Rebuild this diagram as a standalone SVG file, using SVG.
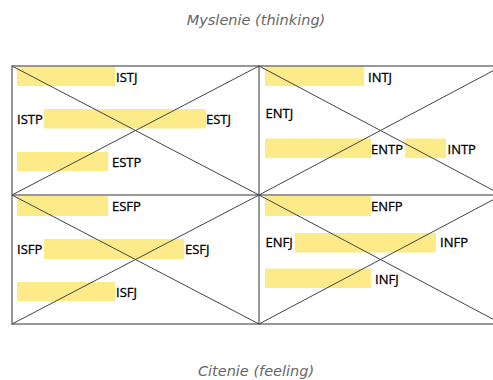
<svg xmlns="http://www.w3.org/2000/svg" width="493" height="380" viewBox="0 0 493 380">
<style>
.bar{fill:#fdeb8a}
.lbl{font-family:"Open Sans","Noto Sans",sans-serif;font-size:13px;fill:#000;stroke:#000;stroke-width:0.3}
.title{font-family:"DejaVu Sans",sans-serif;font-style:italic;font-size:14.5px;fill:#666;text-anchor:middle}
.frame{fill:none;stroke:#777;stroke-width:1.5}
.diag{stroke:#444;stroke-width:1;fill:none}
</style>
<rect width="493" height="380" fill="#fff"/>
<text class="title" x="256" y="25">Myslenie (thinking)</text>
<text class="title" x="256" y="376">Citenie (feeling)</text>
<g id="bars">
<rect class="bar" x="17" y="66" width="98" height="20"/>
<rect class="bar" x="44" y="109" width="162" height="19.5"/>
<rect class="bar" x="17" y="152" width="91" height="19"/>
<rect class="bar" x="17" y="196" width="91" height="20"/>
<rect class="bar" x="44" y="239" width="140" height="20"/>
<rect class="bar" x="17" y="282" width="98" height="19"/>
<rect class="bar" x="265" y="66" width="99" height="20"/>
<rect class="bar" x="265" y="138.5" width="106" height="19.5"/>
<rect class="bar" x="405" y="138.5" width="41" height="19.5"/>
<rect class="bar" x="265" y="196" width="106" height="20"/>
<rect class="bar" x="295" y="233" width="141" height="19.5"/>
<rect class="bar" x="265" y="268.5" width="106" height="19.5"/>
</g>
<g id="frame">
<rect class="frame" x="12" y="66" width="490" height="258"/>
<line class="frame" x1="12" y1="195" x2="502" y2="195"/>
<line x1="259" y1="66" x2="259" y2="324" stroke="#333" stroke-width="1"/>
</g>
<g id="connectors">
<line class="diag" x1="12" y1="66" x2="259" y2="195"/>
<line class="diag" x1="12" y1="195" x2="259" y2="66"/>
<line class="diag" x1="259" y1="66" x2="502" y2="195"/>
<line class="diag" x1="259" y1="195" x2="502" y2="66"/>
<line class="diag" x1="12" y1="195" x2="259" y2="324"/>
<line class="diag" x1="12" y1="324" x2="259" y2="195"/>
<line class="diag" x1="259" y1="195" x2="502" y2="324"/>
<line class="diag" x1="259" y1="324" x2="502" y2="195"/>
</g>
<g id="ISTJ"><text class="lbl" x="116" y="81.7">ISTJ</text></g>
<g id="ISTP"><text class="lbl" x="17" y="124">ISTP</text></g>
<g id="ESTJ"><text class="lbl" x="206" y="124">ESTJ</text></g>
<g id="ESTP"><text class="lbl" x="112" y="167">ESTP</text></g>
<g id="ESFP"><text class="lbl" x="112" y="211">ESFP</text></g>
<g id="ISFP"><text class="lbl" x="17" y="254">ISFP</text></g>
<g id="ESFJ"><text class="lbl" x="185" y="254">ESFJ</text></g>
<g id="ISFJ"><text class="lbl" x="116" y="297">ISFJ</text></g>
<g id="INTJ"><text class="lbl" x="368" y="81.7">INTJ</text></g>
<g id="ENTJ"><text class="lbl" x="265.5" y="118">ENTJ</text></g>
<g id="ENTP"><text class="lbl" x="371" y="154">ENTP</text></g>
<g id="INTP"><text class="lbl" x="447.5" y="154">INTP</text></g>
<g id="ENFP"><text class="lbl" x="371" y="211">ENFP</text></g>
<g id="ENFJ"><text class="lbl" x="265.5" y="247">ENFJ</text></g>
<g id="INFP"><text class="lbl" x="440" y="247">INFP</text></g>
<g id="INFJ"><text class="lbl" x="375" y="283.5">INFJ</text></g>
</svg>
